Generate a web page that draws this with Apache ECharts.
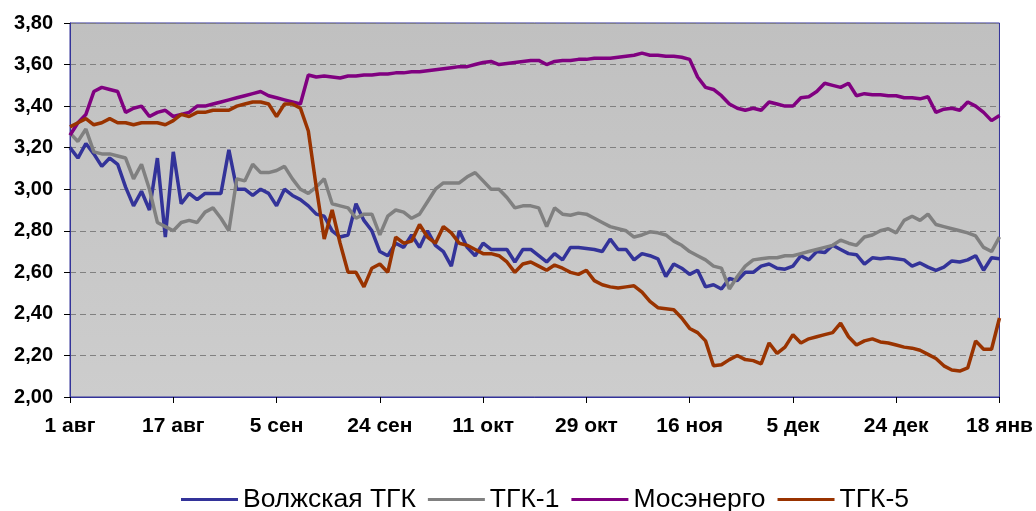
<!DOCTYPE html>
<html>
<head>
<meta charset="utf-8">
<title>Котировки ТГК</title>
<script src="https://cdn.jsdelivr.net/npm/echarts@6.0.0/dist/echarts.min.js"></script>
<style>
    html,body{margin:0;padding:0;background:#fff;}
    #chart{width:1036px;height:511px;}
</style>
</head>
<body>
<div id="chart"></div>
<script>
// подписи оси X: метка через каждые 13 торговых дней
var tickLabels = ['1 авг','17 авг','5 сен','24 сен','11 окт','29 окт','16 ноя','5 дек','24 дек','18 янв'];
var step = 13;
var seriesNames = ['Волжская ТГК','ТГК-1','Мосэнерго','ТГК-5'];
var seriesColors = ['#333399','#808080','#800080','#993300'];

var volga = [
    3.20,3.15,3.22,3.17,3.11,3.15,3.12,3.01,2.92,2.99,2.90,3.15,2.77,
    3.18,2.93,2.98,2.95,2.98,2.98,2.98,3.19,3.00,3.00,2.97,3.00,2.98,
    2.92,3.00,2.97,2.95,2.92,2.88,2.87,2.80,2.77,2.78,2.93,2.85,2.80,
    2.70,2.68,2.74,2.72,2.78,2.72,2.80,2.73,2.70,2.63,2.80,2.72,2.68,
    2.74,2.71,2.71,2.71,2.65,2.71,2.71,2.68,2.65,2.69,2.66,2.72,2.72,
    2.715,2.71,2.70,2.76,2.71,2.71,2.66,2.69,2.68,2.665,2.58,2.64,2.62,
    2.59,2.61,2.53,2.54,2.52,2.57,2.56,2.60,2.60,2.63,2.64,2.62,2.615,
    2.63,2.68,2.66,2.70,2.695,2.73,2.71,2.69,2.685,2.64,2.67,2.665,2.67,
    2.665,2.66,2.63,2.645,2.625,2.61,2.625,2.655,2.65,2.66,2.68,2.61,2.67,2.665
];
var tgk1 = [
    3.27,3.23,3.29,3.18,3.17,3.17,3.16,3.15,3.05,3.12,3.00,2.84,2.82,
    2.80,2.84,2.85,2.84,2.89,2.91,2.86,2.80,3.05,3.04,3.12,3.08,3.08,
    3.09,3.11,3.05,3.00,2.98,3.01,3.05,2.93,2.92,2.91,2.86,2.88,2.88,
    2.78,2.87,2.90,2.89,2.86,2.88,2.94,3.00,3.03,3.03,3.03,3.06,3.08,
    3.04,3.00,3.00,2.96,2.91,2.92,2.92,2.91,2.82,2.91,2.88,2.875,2.885,
    2.88,2.86,2.84,2.82,2.81,2.80,2.77,2.78,2.795,2.79,2.78,2.75,2.73,
    2.70,2.68,2.66,2.63,2.62,2.52,2.58,2.63,2.66,2.665,2.67,2.67,2.68,
    2.68,2.69,2.70,2.71,2.72,2.73,2.755,2.74,2.73,2.77,2.78,2.80,2.81,
    2.79,2.85,2.87,2.85,2.88,2.83,2.82,2.81,2.80,2.79,2.775,2.72,2.70,2.77
];
var mosenergo = [
    3.26,3.32,3.36,3.47,3.49,3.48,3.47,3.37,3.39,3.40,3.35,3.37,3.38,
    3.35,3.36,3.37,3.40,3.40,3.41,3.42,3.43,3.44,3.45,3.46,3.47,3.45,
    3.44,3.43,3.42,3.41,3.55,3.54,3.545,3.54,3.535,3.545,3.545,3.55,3.55,
    3.555,3.555,3.56,3.56,3.565,3.565,3.57,3.575,3.58,3.585,3.59,3.59,3.60,
    3.61,3.615,3.60,3.605,3.61,3.615,3.62,3.62,3.60,3.615,3.62,3.62,3.625,
    3.625,3.63,3.63,3.63,3.635,3.64,3.645,3.655,3.645,3.645,3.64,3.64,3.635,
    3.625,3.54,3.49,3.48,3.45,3.41,3.39,3.38,3.39,3.38,3.42,3.41,3.40,
    3.40,3.44,3.445,3.47,3.51,3.50,3.49,3.51,3.45,3.46,3.455,3.455,3.45,
    3.45,3.44,3.44,3.435,3.445,3.37,3.385,3.39,3.38,3.42,3.40,3.37,3.33,3.355
];
var tgk5 = [
    3.30,3.32,3.34,3.31,3.32,3.34,3.32,3.32,3.31,3.32,3.32,3.32,3.31,
    3.33,3.36,3.35,3.37,3.37,3.38,3.38,3.38,3.40,3.41,3.42,3.42,3.41,
    3.35,3.41,3.41,3.39,3.28,3.01,2.76,2.90,2.74,2.60,2.60,2.53,2.62,
    2.64,2.60,2.77,2.74,2.75,2.83,2.77,2.74,2.82,2.79,2.74,2.73,2.71,
    2.69,2.69,2.68,2.65,2.60,2.64,2.65,2.63,2.61,2.635,2.62,2.60,2.59,
    2.61,2.56,2.54,2.53,2.525,2.53,2.535,2.505,2.46,2.43,2.425,2.42,2.38,
    2.33,2.31,2.27,2.15,2.155,2.18,2.20,2.18,2.175,2.16,2.26,2.21,2.24,
    2.30,2.26,2.28,2.29,2.30,2.31,2.355,2.29,2.25,2.27,2.28,2.265,2.26,
    2.25,2.24,2.235,2.225,2.205,2.185,2.15,2.13,2.125,2.14,2.27,2.23,2.23,2.38
];

// категории: на местах меток - текст, остальные дни - порядковый номер
var categories = [];
for(var i=0;i<volga.length;i++){
    categories.push(i%step===0 ? tickLabels[i/step] : String(i));
}
function isTick(idx){
    return idx%step===0;
}

var chart = echarts.init(document.getElementById('chart'));
var font = 'Liberation Sans, Arial, sans-serif';
var allData = [volga,tgk1,mosenergo,tgk5];
var series = [];
for(var s=0;s<allData.length;s++){
    series.push({
        name:seriesNames[s],
        type:'line',
        data:allData[s],
        symbol:'none',
        animation:false,
        lineStyle:{color:seriesColors[s],width:3.5},
        itemStyle:{color:seriesColors[s]}
    });
}

chart.setOption({
    animation:false,
    grid:{
        left:70,right:34,top:23,bottom:114,
        show:true,
        borderColor:'#333399',
        borderWidth:1,
        backgroundColor:new echarts.graphic.LinearGradient(0,0,0,1,[
            {offset:0,color:'#C0C0C0'},
            {offset:1,color:'#CDCDCD'}
        ])
    },
    legend:{
        data:seriesNames,
        top:481,
        left:176,
        icon:'rect',
        itemWidth:57,
        itemHeight:3,
        itemGap:12,
        textStyle:{fontFamily:font,fontSize:26.5,color:'#000'}
    },
    xAxis:{
        type:'category',
        data:categories,
        boundaryGap:false,
        axisLine:{lineStyle:{color:'#333399',width:1}},
        axisTick:{interval:isTick,length:6,lineStyle:{color:'#000'}},
        axisLabel:{
            interval:isTick,
            margin:19,
            fontFamily:font,
            fontSize:21,
            fontWeight:'bold',
            color:'#000'
        },
        splitLine:{show:false}
    },
    yAxis:{
        type:'value',
        min:2,
        max:3.8,
        interval:0.2,
        axisLine:{show:true,lineStyle:{color:'#333399',width:1}},
        axisTick:{show:true,length:6,lineStyle:{color:'#000'}},
        axisLabel:{
            margin:17,
            fontFamily:font,
            fontSize:20,
            fontWeight:'bold',
            color:'#000',
            formatter:function(v){ return v.toFixed(2).replace('.',','); }
        },
        splitLine:{lineStyle:{color:'#808080',type:[6,4],width:1}}
    },
    series:series
});
</script>
</body>
</html>
